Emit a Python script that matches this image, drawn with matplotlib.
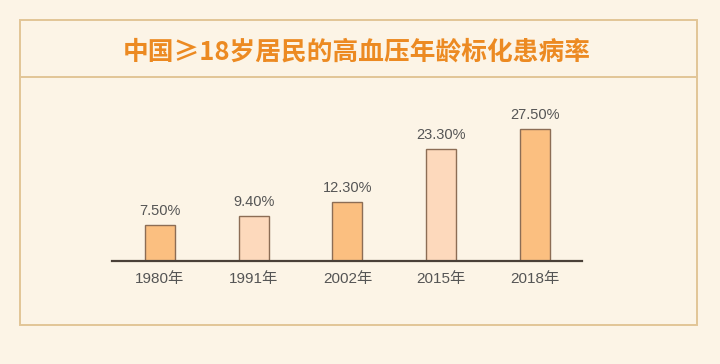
import matplotlib
matplotlib.use("Agg")
import matplotlib.pyplot as plt
from matplotlib.patches import Rectangle
from matplotlib.lines import Line2D

plt.rcParams['font.family'] = ['Noto Sans CJK SC', 'DejaVu Sans']

# 数据
years = ['1980年', '1991年', '2002年', '2015年', '2018年']
rates = [7.5, 9.4, 12.3, 23.3, 27.5]
labels = ['7.50%', '9.40%', '12.30%', '23.30%', '27.50%']
title = '中国≥18岁居民的高血压年龄标化患病率'

bg = '#fcf4e6'
bar_colors = ['#fbbf80', '#fdd9bc', '#fbbf80', '#fdd9bc', '#fbbf80']
num_font = ['Liberation Sans', 'Noto Sans CJK SC']
W, H = 720, 364

fig = plt.figure(figsize=(W / 100, H / 100), dpi=100, facecolor=bg)

# 外框和标题区
def px(x, y):
    return x / W, 1 - y / H

x0, y0 = px(20, 325)
fig.patches.append(Rectangle((x0, y0), 677 / W, 305 / H, transform=fig.transFigure,
                             fill=False, edgecolor='#e2c596', linewidth=1.4))
fig.lines.append(Line2D([20 / W, 697 / W], [1 - 77 / H] * 2, transform=fig.transFigure,
                        color='#e2c596', linewidth=1.4))
fig.text(357 / W, 1 - 52 / H, title, ha='center', va='center', fontsize=18.5,
         fontweight='bold', color='#ec8a22')

# 柱状图
ax = fig.add_axes([112 / W, 103 / H, 470 / W, 171 / H])
ax.set_facecolor('none')
x = list(range(len(years)))
ax.bar(x, rates, width=0.32, color=bar_colors, edgecolor='#8c6d55', linewidth=1.0, zorder=2)
for xi, r, lab in zip(x, rates, labels):
    ax.text(xi, r + 1.5, lab, ha='center', va='bottom', fontsize=10.5, color='#555555',
            family=num_font)

ax.set_xlim(-0.51, 4.5)
ax.set_ylim(0, 171 / 4.8)
ax.set_xticks(x)
ax.set_xticklabels(years, fontsize=11, color='#555555', family=num_font)
ax.tick_params(axis='x', length=0, pad=8)
ax.set_yticks([])
for s in ['top', 'right', 'left']:
    ax.spines[s].set_visible(False)
ax.spines['bottom'].set_color('#4a4038')
ax.spines['bottom'].set_linewidth(1.6)
ax.spines['bottom'].set_zorder(3)

fig.savefig('out.png', dpi=100, facecolor=bg)
